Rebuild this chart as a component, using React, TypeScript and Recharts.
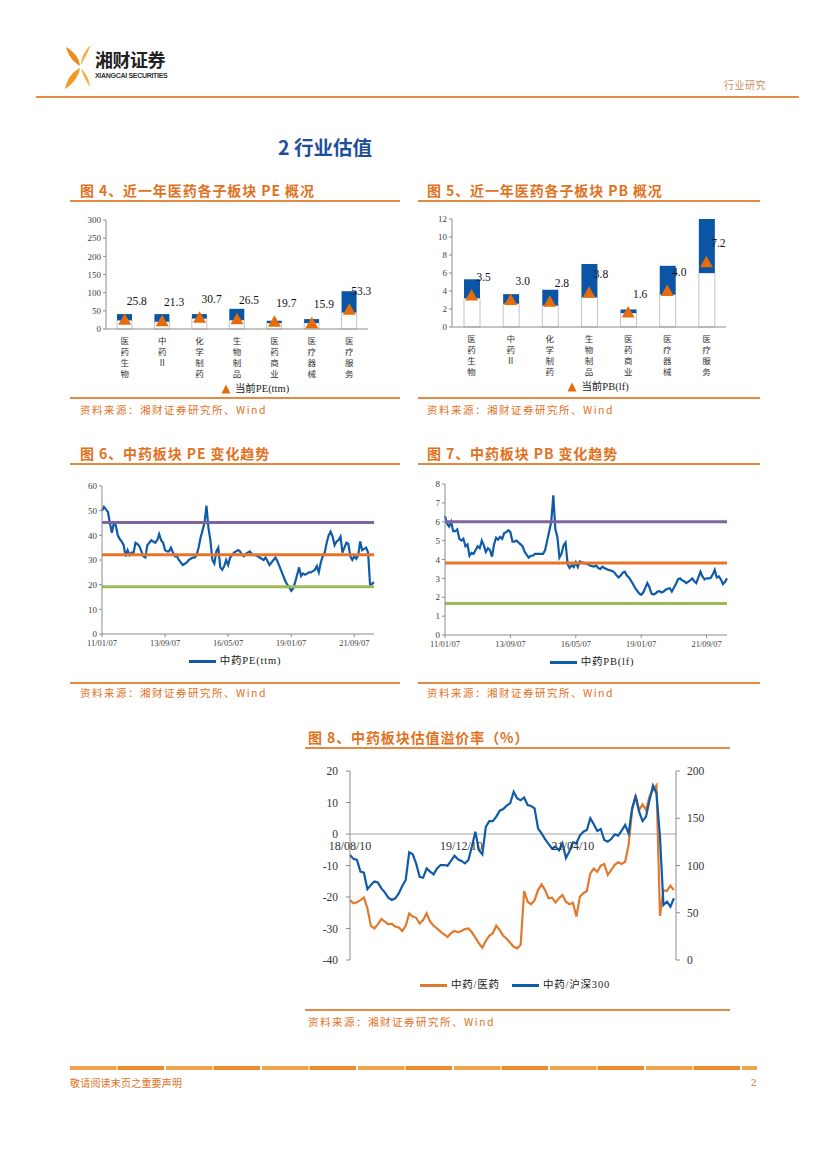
import React from 'react';
import {
  ComposedChart,
  LineChart,
  Bar,
  Line,
  XAxis,
  YAxis,
  ReferenceLine,
  ReferenceDot,
  Legend,
  LabelList,
} from 'recharts';

// ---- data: sub-sector valuation (fig 4 / fig 5) ----
const subSectors = ['医药生物', '中药Ⅱ', '化学制药', '生物制品', '医药商业', '医疗器械', '医疗服务'];
const peLow = [24, 20, 29, 24.5, 16.4, 16.5, 45.5];
const peHigh = [41, 41, 41, 55.5, 22.8, 27.3, 104];
const peNow = [25.8, 21.3, 30.7, 26.5, 19.7, 15.9, 53.3];
const pbLow = [3.2, 2.6, 2.4, 3.3, 1.55, 3.6, 6.0];
const pbHigh = [5.3, 3.65, 4.15, 7.0, 1.95, 6.8, 12.0];
const pbNow = [3.5, 3.0, 2.8, 3.8, 1.6, 4.0, 7.2];

// ---- data: 中药 PE / PB monthly, 2011/01 .. 2022/07 (fig 6 / fig 7) ----
const trendTickIdx = [0, 32, 64, 96, 128];
const trendTickLabels = ['11/01/07', '13/09/07', '16/05/07', '19/01/07', '21/09/07'];
const tcmPE = [
  50, 51.5, 50.5, 49.5, 45, 41, 45, 44, 40, 38.5,
  37.5, 36, 31.5, 34, 32, 33, 33, 37, 36.5, 35.5,
  33.5, 31.5, 31, 36, 37, 38, 37.5, 37, 38, 40.5,
  38, 37, 34, 33.5, 33.5, 35, 33, 31.5, 31.5, 30,
  29, 28, 28.5, 29, 30, 30.5, 31, 31, 32, 35,
  39, 42, 45, 52, 43, 38, 30, 28.5, 33.5, 35,
  27, 26, 27.5, 30, 28, 31, 32, 33, 33.5, 34,
  33.5, 32, 31.5, 32.5, 33, 33.5, 32.5, 32, 32, 31.5,
  31, 30.5, 30, 31, 29.5, 28, 29, 30, 31, 29.5,
  27.5, 25.5, 23.5, 21.5, 20, 19, 17.5, 18.5, 21, 24,
  27, 23.5, 24.5, 24, 24.5, 25, 25, 25.5, 26, 27.5,
  25, 29, 31.5, 33, 37, 40, 41.5, 39.5, 36, 37.5,
  38, 39.5, 33, 35, 37, 36.5, 31.5, 30, 31.5, 30.5,
  32, 37.5, 34, 34.5, 35, 33, 20, 20.3, 21,
];
const tcmPB = [
  6.3, 5.9, 5.75, 6.0, 5.5, 5.5, 5.6, 5.1, 5.0, 5.1,
  4.7, 4.8, 4.2, 4.35, 4.3, 4.5, 4.7, 4.6, 5.0, 4.75,
  4.4, 4.6, 4.5, 4.15, 4.8, 5.15, 5.05, 5.2, 5.1, 5.4,
  5.45, 5.55, 5.45, 4.95, 4.95, 5.0, 4.9, 4.8, 4.7, 4.4,
  4.25, 4.1, 4.2, 4.2, 4.3, 4.3, 4.3, 4.3, 4.3, 4.5,
  5.0, 5.5, 6.0, 7.4, 5.6, 5.2, 4.1, 4.3, 4.75, 4.9,
  3.75, 3.55, 3.7, 3.6, 3.85, 3.6, 3.9, 3.85, 3.8, 3.8,
  3.75, 3.68, 3.65, 3.63, 3.68, 3.55, 3.5, 3.62, 3.55, 3.5,
  3.45, 3.42, 3.38, 3.3, 3.15, 3.05, 3.15, 3.3, 3.35, 3.15,
  3.05, 2.88, 2.7, 2.5, 2.35, 2.2, 2.13, 2.25, 2.5, 2.75,
  2.55, 2.2, 2.15, 2.2, 2.3, 2.32, 2.25, 2.3, 2.4, 2.45,
  2.48, 2.3, 2.5, 2.7, 2.95, 3.0, 2.9, 2.85, 2.75, 2.82,
  2.9, 3.0, 2.85, 2.75, 3.05, 3.35, 3.1, 2.95, 3.0, 3.0,
  3.02, 3.2, 3.45, 3.05, 3.1, 2.95, 2.7, 2.8, 3.0,
];
// mean and +/- 1 std bands
const peBands = [45.2, 32.1, 19.2];
const pbBands = [6.0, 3.82, 1.67];

// ---- data: premium, half-monthly from 2018/08/10 (fig 8) ----
const premTickIdx = [0, 32, 64];
const premTickLabels = ['18/08/10', '19/12/10', '21/04/10'];
const premVsPharma = [
  -21, -22, -21.7, -21, -20.2, -23.6, -29.2, -30, -28.7, -27,
  -27.8, -28.7, -28.5, -29.4, -29.7, -30.8, -29.1, -25.2, -26.2, -26.6,
  -28.4, -27.3, -25.2, -27.8, -29.1, -30, -31, -31.9, -32.7, -31.5,
  -30.8, -31.2, -30.8, -30.2, -30, -31.2, -32.9, -34.7, -36.1, -33.9,
  -32.3, -31.5, -29.1, -30.5, -32.3, -33.3, -34.5, -35.8, -36.3, -35.2,
  -18.1, -21.5, -22.3, -21, -17.8, -16, -17.8, -20.4, -20.2, -21.7,
  -20.4, -19.4, -21.5, -22.3, -21.8, -26.2, -19.9, -18.8, -18.1, -12.5,
  -11, -12, -10, -9.5, -13, -11.5, -9.8, -9, -9.5, -8.8,
  -3.5, 7.6, 12.4, 7.6, 9.4, 7.6, 11.9, 14, 15.5, -26,
  -17.8, -18.1, -16.4, -17.8,
];
const premVsHs300 = [
  111, 107, 106, 93.5, 92.4, 75, 79.4, 83, 82, 75.8,
  71.6, 66, 63.5, 65.3, 70.5, 78.3, 84.7, 114, 111.8, 102,
  88, 87, 97, 93.5, 90.7, 97, 100.5, 100.5, 99.8, 104.8,
  110.4, 106.5, 104.8, 102.3, 105.8, 120, 135.8, 116.4, 111.8, 141,
  147, 147, 151.7, 158, 159.8, 163.3, 166, 178, 171, 169,
  172, 164, 163, 160.5, 139, 134, 128, 122.8, 118, 120,
  116, 123.5, 108, 115, 124.5, 123.5, 131.6, 135.8, 137.6, 150,
  143.6, 136.5, 138.6, 127, 125.2, 128, 133, 131.6, 136.9, 142.9,
  134, 160.5, 172.8, 157, 147, 151.7, 169.3, 184.5, 176.4, 130,
  58.2, 61.7, 56.4, 65.3,
];

const ACCENT = '#E2711D';
const BAR_BLUE = '#0A55A5';
const LINE_BLUE = '#0F5BA8';
const TRI = '#E46C0A';
const PURPLE = '#8064A2';
const REF_ORANGE = '#E8742A';
const GREEN = '#9BBB59';
const AXIS = '#8c8c8c';
const SERIF = '"Liberation Serif", "Noto Sans CJK SC", serif';
const CJK = '"Noto Sans CJK SC", sans-serif';

const peBarData = subSectors.map((name, i) => ({ name, low: peLow[i], range: peHigh[i] - peLow[i], now: peNow[i] }));
const pbBarData = subSectors.map((name, i) => ({ name, low: pbLow[i], range: pbHigh[i] - pbLow[i], now: pbNow[i] }));
const peTrend = tcmPE.map((v, i) => ({ i, v }));
const pbTrend = tcmPB.map((v, i) => ({ i, v }));
const premData = premVsPharma.map((v, k) => ({ k, med: v, hs: premVsHs300[k] }));

// category names are drawn one character per line, like the source
const VerticalTick = (props: any) => {
  const { x, y, payload } = props;
  const chars: string[] = Array.from(payload.value as string);
  return (
    <g>
      {chars.map((c, i) => (
        <text key={i} x={x} y={y + 6.5 + i * 11.2} textAnchor="middle" fontSize={8.5} fill="#333" fontFamily={CJK}>
          {c}
        </text>
      ))}
    </g>
  );
};

const triangleDot = (props: any) => {
  const { cx, cy, index } = props;
  if (cx == null || cy == null) return <g key={`t${index}`} />;
  return <path key={`t${index}`} d={`M${cx},${cy - 6.5} L${cx + 6.5},${cy + 5} L${cx - 6.5},${cy + 5} Z`} fill={TRI} />;
};

const valueLabel = (props: any) => {
  const { x, y, value } = props;
  return (
    <text x={x + 12} y={y - 15} textAnchor="middle" fontSize={11.5} fill="#111" fontFamily={SERIF}>
      {Number(value).toFixed(1)}
    </text>
  );
};

const TriLegend = ({ text, shift }: { text: string; shift: number }) => (
  <div style={{ display: 'flex', justifyContent: 'center', alignItems: 'center', paddingLeft: shift, fontFamily: SERIF, fontSize: 10.5, color: '#222', lineHeight: '16px' }}>
    <svg width={10} height={10} style={{ marginRight: 4 }}>
      <path d="M5,0.5 L9.5,9.5 L0.5,9.5 Z" fill={TRI} />
    </svg>
    <span>{text}</span>
  </div>
);

const LineLegend = ({ items, shift }: { items: { text: string; color: string }[]; shift: number }) => (
  <div style={{ display: 'flex', justifyContent: 'center', alignItems: 'center', paddingLeft: shift, fontFamily: SERIF, fontSize: 10.5, color: '#222', lineHeight: '16px' }}>
    {items.map((it, i) => (
      <span key={i} style={{ display: 'flex', alignItems: 'center', marginLeft: i ? 12 : 0 }}>
        <span style={{ display: 'inline-block', width: 27, height: 3, background: it.color, marginRight: 4 }} />
        <span style={{ letterSpacing: 0.8 }}>{it.text}</span>
      </span>
    ))}
  </div>
);

const Frame = (p: { left: number; width: number; titleX: number; titleY: number; title: string; lineY: number; bottomY: number; sourceY: number }) => (
  <>
    <div style={{ position: 'absolute', left: p.titleX, top: p.titleY - 8, fontSize: 14, fontWeight: 700, color: ACCENT, fontFamily: CJK, lineHeight: '16px', letterSpacing: 0.9, whiteSpace: 'pre' }}>
      {p.title}
    </div>
    <div style={{ position: 'absolute', left: p.left, top: p.lineY, width: p.width, height: 1.5, background: '#E58A43' }} />
    <div style={{ position: 'absolute', left: p.left, top: p.bottomY, width: p.width, height: 1.5, background: '#E58A43' }} />
    <div style={{ position: 'absolute', left: p.titleX, top: p.sourceY - 7, fontSize: 10.5, color: ACCENT, fontFamily: CJK, lineHeight: '14px', letterSpacing: 1.5, whiteSpace: 'pre' }}>
      资料来源：湘财证券研究所、Wind
    </div>
  </>
);

const yTick = { fontSize: 9, fill: '#404040' };

const SubSectorChart = (p: { left: number; top: number; width: number; rightM: number; yW: number; plotH: number; data: any[]; domain: number[]; ticks: number[]; barSize: number; legend: string; shift: number }) => (
  <div style={{ position: 'absolute', left: p.left, top: p.top, fontFamily: SERIF }}>
    <ComposedChart width={p.width} height={10 + p.plotH + 52 + 16} data={p.data} margin={{ top: 10, right: p.rightM, bottom: 0, left: 0 }}>
      <XAxis dataKey="name" interval={0} tickLine={false} axisLine={{ stroke: AXIS }} height={52} tick={<VerticalTick />} />
      <YAxis width={p.yW} domain={p.domain} ticks={p.ticks} tick={yTick} tickSize={3} axisLine={{ stroke: AXIS }} tickLine={{ stroke: AXIS }} />
      <Bar dataKey="low" stackId="s" fill="#fff" stroke="#c4c4c4" barSize={p.barSize} isAnimationActive={false} />
      <Bar dataKey="range" stackId="s" fill={BAR_BLUE} barSize={p.barSize} isAnimationActive={false} />
      <Line dataKey="now" stroke="none" dot={triangleDot} activeDot={false} isAnimationActive={false}>
        <LabelList dataKey="now" content={valueLabel} />
      </Line>
      <Legend verticalAlign="bottom" height={16} wrapperStyle={{ left: 0, width: p.width }} content={() => <TriLegend text={p.legend} shift={p.shift} />} />
    </ComposedChart>
  </div>
);

const TrendChart = (p: { left: number; top: number; width: number; rightM: number; yW: number; plotH: number; data: any[]; domain: number[]; ticks: number[]; bands: number[]; legend: string; shift: number }) => (
  <div style={{ position: 'absolute', left: p.left, top: p.top, fontFamily: SERIF }}>
    <LineChart width={p.width} height={10 + p.plotH + 19 + 16} data={p.data} margin={{ top: 10, right: p.rightM, bottom: 0, left: 0 }}>
      <XAxis
        dataKey="i"
        type="number"
        domain={[0, 138]}
        ticks={trendTickIdx}
        tickFormatter={(v: number) => trendTickLabels[trendTickIdx.indexOf(v)]}
        tick={{ fontSize: 8.5, fill: '#404040' }}
        tickSize={3}
        tickMargin={3}
        axisLine={{ stroke: AXIS }}
        tickLine={{ stroke: AXIS }}
        height={19}
      />
      <YAxis width={p.yW} domain={p.domain} ticks={p.ticks} tick={yTick} tickSize={3} axisLine={{ stroke: AXIS }} tickLine={{ stroke: AXIS }} />
      <Line dataKey="v" stroke={LINE_BLUE} strokeWidth={2.2} dot={false} activeDot={false} isAnimationActive={false} />
      <ReferenceLine y={p.bands[0]} stroke={PURPLE} strokeWidth={3} />
      <ReferenceLine y={p.bands[1]} stroke={REF_ORANGE} strokeWidth={3} />
      <ReferenceLine y={p.bands[2]} stroke={GREEN} strokeWidth={3} />
      <Legend verticalAlign="bottom" height={16} wrapperStyle={{ left: 0, width: p.width }} content={() => <LineLegend items={[{ text: p.legend, color: LINE_BLUE }]} shift={p.shift} />} />
    </LineChart>
  </div>
);

const Logo = () => (
  <svg width={30} height={48} style={{ position: 'absolute', left: 63, top: 43 }}>
    <path d="M3,4 C10,8 16,14 17,23 C12,20 6,15 3,4 Z" fill="#F08A1E" />
    <path d="M28,2 C25,9 22,15 18,22 C18,14 22,7 28,2 Z" fill="#F7B24A" />
    <path d="M2,46 C4,36 9,29 17,25 C16,33 10,41 2,46 Z" fill="#F39A25" />
    <path d="M27,44 C23,38 20,32 18,26 C23,30 26,36 27,44 Z" fill="#F6A93B" />
  </svg>
);

export default function App() {
  return (
    <div style={{ position: 'absolute', left: 0, top: 0, width: 827, height: 1169, background: '#fff', overflow: 'hidden', fontFamily: CJK }}>
      {/* header */}
      <Logo />
      <div style={{ position: 'absolute', left: 95, top: 49, fontSize: 18, fontWeight: 700, color: '#222', lineHeight: '20px', letterSpacing: -0.5 }}>湘财证券</div>
      <div style={{ position: 'absolute', left: 95, top: 71, fontSize: 7, fontWeight: 700, color: '#333', lineHeight: '9px', letterSpacing: -0.3, fontFamily: '"Liberation Sans Narrow", "Liberation Sans", sans-serif' }}>
        XIANGCAI SECURITIES
      </div>
      <div style={{ position: 'absolute', left: 724, top: 78, fontSize: 10, color: '#C99265', lineHeight: '14px', letterSpacing: 0.5 }}>行业研究</div>
      <div style={{ position: 'absolute', left: 36, top: 96, width: 763, height: 2, background: '#E58A43' }} />
      <div style={{ position: 'absolute', left: 278, top: 135, fontSize: 19.5, fontWeight: 700, color: '#1F4E9A', lineHeight: '24px' }}>2 行业估值</div>

      {/* fig 4 */}
      <Frame left={70} width={330} titleX={80} titleY={190} title={'图 4、近一年医药各子板块 PE 概况'} lineY={200} bottomY={397} sourceY={410} />
      <SubSectorChart left={70} top={210} width={330} rightM={32} yW={36} plotH={109} data={peBarData} domain={[0, 300]} ticks={[0, 50, 100, 150, 200, 250, 300]} barSize={15} legend="当前PE(ttm)" shift={40} />

      {/* fig 5 */}
      <Frame left={418} width={342} titleX={427} titleY={190} title={'图 5、近一年医药各子板块 PB 概况'} lineY={200} bottomY={397} sourceY={410} />
      <SubSectorChart left={418} top={209} width={340} rightM={32} yW={34} plotH={108} data={pbBarData} domain={[0, 12]} ticks={[0, 2, 4, 6, 8, 10, 12]} barSize={16} legend="当前PB(lf)" shift={20} />

      {/* fig 6 */}
      <Frame left={70} width={330} titleX={80} titleY={453} title={'图 6、中药板块 PE 变化趋势'} lineY={463} bottomY={682} sourceY={693} />
      <TrendChart left={70} top={476} width={330} rightM={26} yW={32} plotH={148} data={peTrend} domain={[0, 60]} ticks={[0, 10, 20, 30, 40, 50, 60]} bands={peBands} legend="中药PE(ttm)" shift={0} />

      {/* fig 7 */}
      <Frame left={418} width={342} titleX={427} titleY={453} title={'图 7、中药板块 PB 变化趋势'} lineY={463} bottomY={682} sourceY={693} />
      <TrendChart left={418} top={474} width={340} rightM={31} yW={27} plotH={151} data={pbTrend} domain={[0, 8]} ticks={[0, 1, 2, 3, 4, 5, 6, 7, 8]} bands={pbBands} legend="中药PB(lf)" shift={8} />

      {/* fig 8 */}
      <Frame left={305} width={425} titleX={308} titleY={737} title={'图 8、中药板块估值溢价率（%）'} lineY={747} bottomY={1009} sourceY={1022} />
      <div style={{ position: 'absolute', left: 300, top: 760, fontFamily: SERIF }}>
        <ComposedChart width={430} height={237} data={premData} margin={{ top: 11, right: 4, bottom: 0, left: 0 }}>
          <XAxis dataKey="k" type="number" domain={[0, 93.6]} tick={false} axisLine={false} tickLine={false} height={17} />
          <YAxis yAxisId="l" width={50} domain={[-40, 20]} ticks={[-40, -30, -20, -10, 0, 10, 20]} tick={{ fontSize: 11.5, fill: '#333' }} tickSize={4} tickMargin={8} axisLine={{ stroke: AXIS }} tickLine={{ stroke: AXIS }} />
          <YAxis yAxisId="r" orientation="right" width={50} domain={[0, 200]} ticks={[0, 50, 100, 150, 200]} tick={{ fontSize: 11.5, fill: '#333' }} tickSize={4} tickMargin={7} axisLine={{ stroke: AXIS }} tickLine={{ stroke: AXIS }} />
          <ReferenceLine yAxisId="l" y={0} stroke="#a6a6a6" strokeWidth={1} />
          {premTickIdx.map((t, i) => (
            <ReferenceDot key={t} yAxisId="l" x={t} y={0} r={0} stroke="none" fill="none" label={{ value: premTickLabels[i], position: 'bottom', offset: 7, fontSize: 12, fill: '#333' }} />
          ))}
          <Line yAxisId="l" dataKey="med" stroke="#E07A2F" strokeWidth={2.2} dot={false} activeDot={false} isAnimationActive={false} />
          <Line yAxisId="r" dataKey="hs" stroke={LINE_BLUE} strokeWidth={2.2} dot={false} activeDot={false} isAnimationActive={false} />
          <Legend
            verticalAlign="bottom"
            height={20}
            wrapperStyle={{ left: 0, width: 430 }}
            content={() => (
              <LineLegend
                items={[
                  { text: '中药/医药', color: '#E07A2F' },
                  { text: '中药/沪深300', color: LINE_BLUE },
                ]}
                shift={0}
              />
            )}
          />
        </ComposedChart>
      </div>

      {/* footer */}
      <div style={{ position: 'absolute', left: 70, top: 1066, width: 687, height: 4, background: 'repeating-linear-gradient(90deg, #F4A24A 0 46px, #FBD3A0 46px 48px, #EE8A2A 48px 94px, #fff 94px 96px)' }} />
      <div style={{ position: 'absolute', left: 70, top: 1076, fontSize: 10, color: ACCENT, lineHeight: '14px', letterSpacing: 0.2 }}>敬请阅读末页之重要声明</div>
      <div style={{ position: 'absolute', left: 751, top: 1075, fontSize: 11, color: ACCENT, lineHeight: '14px', fontFamily: SERIF }}>2</div>
    </div>
  );
}
